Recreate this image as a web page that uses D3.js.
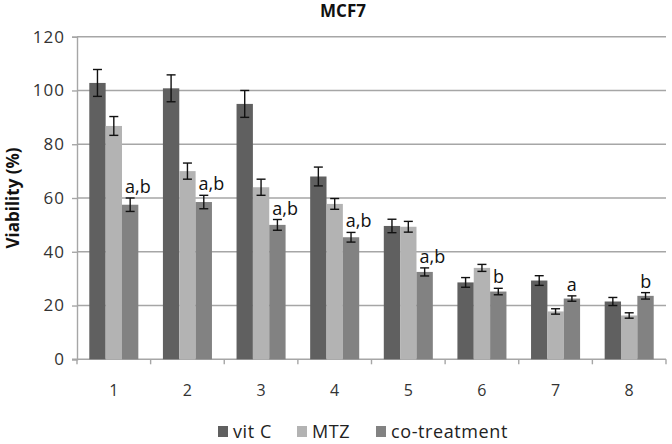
<!DOCTYPE html>
<html><head><meta charset="utf-8">
<script src="https://cdn.jsdelivr.net/npm/d3@7"></script>
<style>body{margin:0;background:#fff}svg{display:block}</style>
</head><body>
<svg id="c" width="672" height="444"></svg>
<script>
const categories = ["1","2","3","4","5","6","7","8"];
const seriesNames = ["vit C","MTZ","co-treatment"];
const vitC = [102.8, 100.8, 95, 68, 49.6, 28.6, 29.3, 21.5];
const vitCErr = [5, 5, 5, 3.5, 2.5, 1.8, 1.8, 1.5];
const mtz = [86.8, 70, 64, 57.8, 49.3, 34, 17.8, 16.3];
const mtzErr = [3.5, 3, 3, 2, 2, 1.3, 1, 1];
const coT = [57.5, 58.5, 50, 45.4, 32.5, 25.2, 22.6, 23.6];
const coTErr = [2.5, 2.5, 2, 1.8, 1.5, 1.2, 1, 1.2];
const coLabels = ["a,b","a,b","a,b","a,b","a,b","b","a","b"];
const yTicks = [0,20,40,60,80,100,120];
const colors = ["#606060","#b3b3b3","#828282"];

const values = [vitC, mtz, coT];
const errs = [vitCErr, mtzErr, coTErr];

const svg = d3.select("#c");
const L = 77, R = 666, T = 36.7, B = 359.3;
const font = "'Open Sans', 'DejaVu Sans', sans-serif";

const y = d3.scaleLinear().domain([0,120]).range([B,T]);
const x0 = d3.scaleBand().domain(categories).range([L,R]).paddingInner(0.334).paddingOuter(0.167);
const x1 = d3.scaleBand().domain(seriesNames).range([0,x0.bandwidth()]);
const xCat = d3.scaleBand().domain(categories).range([L,R]);

// gridlines
svg.append("g").selectAll("line").data(yTicks.filter(d=>d>0)).join("line")
  .attr("x1",L).attr("x2",R).attr("y1",d=>y(d)).attr("y2",d=>y(d))
  .attr("stroke","#a6a6a6").attr("stroke-width",1.4);

// y axis
const yAxis = svg.append("g").attr("transform",`translate(${L},0)`)
  .call(d3.axisLeft(y).tickValues(yTicks).tickSize(5).tickPadding(7));
yAxis.select(".domain").attr("stroke","#a6a6a6").attr("stroke-width",1.4);
yAxis.selectAll(".tick line").attr("stroke","#a6a6a6").attr("stroke-width",1.4);
yAxis.selectAll("text").attr("font-family",font).attr("font-size",17).attr("letter-spacing",1).attr("fill","#333");

// x axis
const xAxisG = svg.append("g").attr("transform",`translate(0,${B})`);
xAxisG.append("line").attr("x1",L-5).attr("x2",R).attr("y1",0).attr("y2",0)
  .attr("stroke","#a6a6a6").attr("stroke-width",1.4);
const bounds = categories.map(c=>xCat(c)).concat([R]);
xAxisG.selectAll("line.t").data(bounds).join("line").attr("class","t")
  .attr("x1",d=>d).attr("x2",d=>d).attr("y1",0).attr("y2",5)
  .attr("stroke","#a6a6a6").attr("stroke-width",1.4);
xAxisG.selectAll("text").data(categories).join("text")
  .attr("x",d=>xCat(d)+xCat.bandwidth()/2).attr("y",37)
  .attr("text-anchor","middle").attr("font-family",font).attr("font-size",16).attr("fill","#333")
  .text(d=>d);

// bars
const g = svg.append("g");
seriesNames.forEach((s,si)=>{
  const gs = g.append("g");
  gs.selectAll("rect").data(categories).join("rect")
    .attr("x",(c)=>x0(c)+x1(s)).attr("width",x1.bandwidth())
    .attr("y",(c,i)=>y(values[si][i])).attr("height",(c,i)=>B-y(values[si][i]))
    .attr("fill",colors[si]);
  // error bars
  categories.forEach((c,i)=>{
    const cx = x0(c)+x1(s)+x1.bandwidth()/2;
    const v = values[si][i], e = errs[si][i];
    const ge = gs.append("g").attr("stroke","#111").attr("stroke-width",1.4);
    ge.append("line").attr("x1",cx).attr("x2",cx).attr("y1",y(v+e)).attr("y2",y(v-e));
    ge.append("line").attr("x1",cx-4.5).attr("x2",cx+4.5).attr("y1",y(v+e)).attr("y2",y(v+e));
    ge.append("line").attr("x1",cx-4.5).attr("x2",cx+4.5).attr("y1",y(v-e)).attr("y2",y(v-e));
  });
});

// significance labels above co-treatment
categories.forEach((c,i)=>{
  const bx = x0(c)+x1("co-treatment");
  svg.append("text").attr("x",bx+3).attr("y",y(coT[i]+coTErr[i])-5)
    .attr("text-anchor","start").attr("font-family",font).attr("font-size",18).attr("fill","#111")
    .text(coLabels[i]);
});

// title
svg.append("text").attr("x",343).attr("y",17).attr("text-anchor","middle")
  .attr("font-family",font).attr("font-size",17).attr("font-weight","bold").attr("fill","#111").text("MCF7");

// y label
svg.append("text").attr("transform",`translate(19,${(T+B)/2}) rotate(-90)`).attr("text-anchor","middle")
  .attr("font-family",font).attr("font-size",17).attr("font-weight","bold").attr("fill","#111").text("Viability (%)");

// legend
const legX = [218, 297, 376];
seriesNames.forEach((s,i)=>{
  svg.append("rect").attr("x",legX[i]).attr("y",426).attr("width",10).attr("height",11).attr("fill",colors[i]);
  svg.append("text").attr("x",legX[i]+15).attr("y",438).attr("font-family",font).attr("font-size",18).attr("letter-spacing",0.6).attr("fill","#222").text(s);
});
</script>
</body></html>
